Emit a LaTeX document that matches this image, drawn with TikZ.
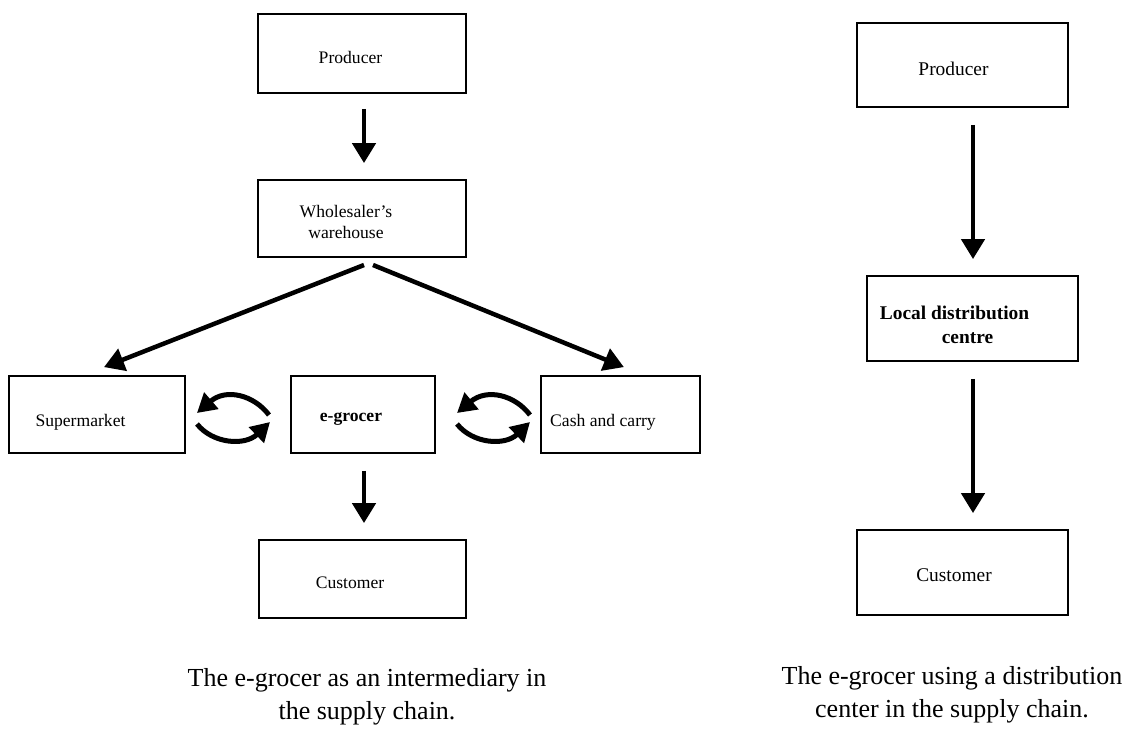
\documentclass[tikz,border=0pt]{standalone}
\usepackage{fontspec}
\setmainfont{Liberation Serif}
\usetikzlibrary{arrows.meta}
\begin{document}
\begin{tikzpicture}[x=1pt,y=-1pt,
  box/.style={draw,line width=1.8pt,inner sep=0pt},
  lbl/.style={font=\fontsize{17.6}{21}\selectfont,inner sep=0pt,align=center},
  rlbl/.style={font=\fontsize{19.4}{24}\selectfont,inner sep=0pt,align=center},
  captext/.style={font=\fontsize{26}{33}\selectfont,inner sep=0pt,align=center},
  arr/.style={line width=4.5pt,-{Triangle[width=23pt,length=20pt]}},
  swaparr/.style={line width=5pt,-{Triangle[width=21pt,length=19pt]}}]
\useasboundingbox (0,0) rectangle (1129,733);
% left chain boxes
\node[box,minimum width=208pt,minimum height=79pt] (p1) at (362,53.5) {};
\node[box,minimum width=208pt,minimum height=77pt] (w) at (362,218.5) {};
\node[box,minimum width=176pt,minimum height=77pt] (s) at (97,414.5) {};
\node[box,minimum width=144pt,minimum height=77pt] (e) at (363,414.5) {};
\node[box,minimum width=159pt,minimum height=77pt] (c) at (620.5,414.5) {};
\node[box,minimum width=207pt,minimum height=78pt] (cu1) at (362.5,579) {};
% left labels
\node[lbl] (tp1) at (350.5,57) {Producer};
\node[lbl] (tw) at (346,222) {Wholesaler’s\\ warehouse};
\node[lbl] (ts) at (80.5,422) {Supermarket};
\node[lbl,font=\fontsize{17.6}{21}\selectfont\bfseries] (te) at (351,419) {e-grocer};
\node[lbl] (tc) at (603,422) {Cash and carry};
\node[lbl] (tcu1) at (350,583) {Customer};
% left arrows
\draw[arr] ([yshift=-15pt]p1.south -| 364,0) -- ([yshift=16pt]w.north -| 364,0);
\coordinate (wl) at (364,265);
\coordinate (wr) at (373,265);
\draw[arr] (wl) -- ([xshift=7pt,yshift=8pt]s.north);
\draw[arr] (wr) -- ([xshift=-77pt,yshift=8pt]c.north east);
\draw[arr] ([yshift=-17pt]e.south -| 364,0) -- ([yshift=16pt]cu1.north -| 364,0);
% swap arrows
\coordinate (sa1) at (269,415);
\coordinate (sb1) at (197,413);
\coordinate (sa2) at (197,424);
\coordinate (sb2) at (270,422);
\draw[swaparr] (sa1) .. controls (254,395) and (226,388) .. (sb1);
\draw[swaparr] (sa2) .. controls (213,444) and (245,446) .. (sb2);
\coordinate (ca1) at (530,415);
\coordinate (cb1) at (457,413);
\coordinate (ca2) at (457,424);
\coordinate (cb2) at (530,422);
\draw[swaparr] (ca1) .. controls (515,395) and (487,388) .. (cb1);
\draw[swaparr] (ca2) .. controls (473,444) and (505,446) .. (cb2);
% right chain
\node[box,minimum width=211pt,minimum height=84pt] (p2) at (962.5,65) {};
\node[box,minimum width=211pt,minimum height=85pt] (l) at (972.5,318.5) {};
\node[box,minimum width=211pt,minimum height=85pt] (cu2) at (962.5,572.5) {};
\node[rlbl] (tp2) at (953.5,69) {Producer};
\node[rlbl,font=\fontsize{19.4}{24}\selectfont\bfseries,align=left] (tl) at (954.5,325) {Local distribution\\\hspace*{62pt}centre};
\node[rlbl] (tcu2) at (954,575) {Customer};
\draw[arr] ([yshift=-17pt]p2.south -| 973,0) -- ([yshift=16pt]l.north -| 973,0);
\draw[arr] ([yshift=-17pt]l.south -| 973,0) -- ([yshift=16pt]cu2.north -| 973,0);
% captions
\node[captext] (cap1) at (367,697) {The e-grocer as an intermediary in\\the supply chain.};
\node[captext] (cap2) at (952,695) {The e-grocer using a distribution\\center in the supply chain.};
\end{tikzpicture}
\end{document}
